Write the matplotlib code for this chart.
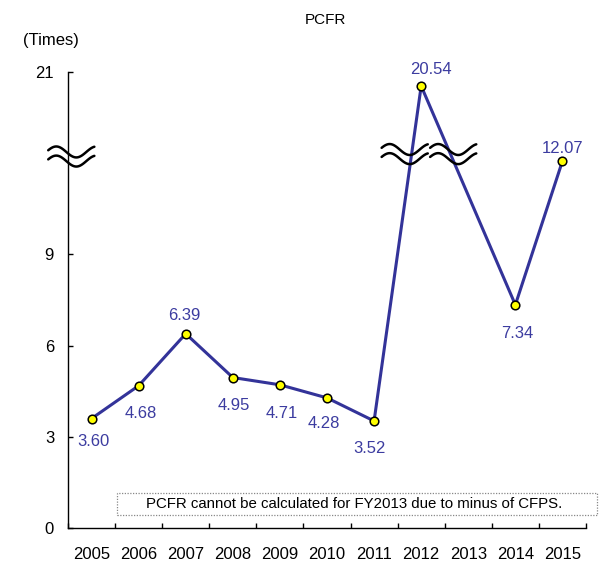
import numpy as np
import matplotlib
matplotlib.use("Agg")
import matplotlib.pyplot as plt
from matplotlib.patches import Rectangle

plt.rcParams['font.family'] = ['Liberation Sans', 'DejaVu Sans']

years = ['2005', '2006', '2007', '2008', '2009', '2010', '2011', '2012', '2013', '2014', '2015']
pcfr = [3.60, 4.68, 6.39, 4.95, 4.71, 4.28, 3.52, 20.54, None, 7.34, 12.07]
ytick_vals = [0, 3, 6, 9, 21]
title = 'PCFR'
unit = '(Times)'
note = 'PCFR cannot be calculated for FY2013 due to minus of CFPS.'

BREAK_LO, BREAK_SHIFT = 12.5, 6.0


def fwd(v):
    return v if v <= BREAK_LO else v - BREAK_SHIFT


line_c = '#333399'
label_c = '#3c3ca0'

W, H = 601, 566
fig = plt.figure(figsize=(W / 100, H / 100), dpi=100)
ax = fig.add_axes([68 / W, 1 - 528 / H, (586 - 68) / W, (528 - 72) / H])

xs = [i for i, v in enumerate(pcfr) if v is not None]
ys = [fwd(v) for v in pcfr if v is not None]
ax.plot(xs, ys, color=line_c, lw=2.2, zorder=3)
ax.plot(xs, ys, ls='none', marker='o', ms=6.2, mfc='#ffff00', mec='black', mew=1.1, zorder=4)

# label offsets (pixels, center of text)
offs = {0: (2, -21), 1: (2, -26), 2: (-1, 20), 3: (1, -26), 4: (2, -27),
        5: (-3, -24), 6: (-5, -26), 7: (10, 18), 9: (2, -27), 10: (0, 14)}
for i, v in enumerate(pcfr):
    if v is None:
        continue
    dx, dy = offs[i]
    ax.annotate(f'{v:.2f}', (i, fwd(v)), xytext=(dx, dy - 6), textcoords='offset pixels',
                ha='center', va='baseline', fontsize=12, color=label_c, zorder=5)

ax.set_xlim(-0.5, len(years) - 0.5)
ax.set_ylim(0, 15)
ax.set_yticks([fwd(v) if v <= BREAK_LO else v - BREAK_SHIFT for v in ytick_vals])
ax.set_yticklabels([str(v) for v in ytick_vals])
ax.set_xticks(np.arange(len(years) + 1) - 0.5)
ax.set_xticklabels([])
ax.set_xticks(np.arange(len(years)), minor=True)
ax.set_xticklabels(years, minor=True)
ax.tick_params(axis='x', which='major', direction='in', length=3.5, width=1, color='black')
ax.tick_params(axis='x', which='minor', length=0, pad=14, labelsize=12)
ax.tick_params(axis='y', direction='in', length=3.5, width=1, pad=10, labelsize=12)
for s in ['top', 'right']:
    ax.spines[s].set_visible(False)
for s in ['left', 'bottom']:
    ax.spines[s].set_linewidth(1)
    ax.spines[s].set_color('black')

# axis break symbols
def wave(cx, cy):
    t = np.linspace(0, 1, 80)
    wx = cx + (t - 0.5) * 0.98
    phase = 0.1 * np.pi + t * 2.3 * np.pi
    for k in (+0.15, -0.15):
        wy = cy + k + 0.18 * np.sin(phase)
        ax.plot(wx, wy, color='black', lw=1.8, clip_on=False, zorder=6, solid_capstyle='round')

wave(-0.43, 12.22)
wave(6.65, 12.3)
wave(7.68, 12.3)

fig.text(325.5 / W, 1 - 24 / H, title, ha='center', va='baseline', fontsize=11)
fig.text(23 / W, 1 - 45 / H, unit, ha='left', va='baseline', fontsize=12)

fig.patches.append(Rectangle((117 / W, 1 - 515 / H), (597 - 117) / W, (515 - 493) / H,
                             transform=fig.transFigure, fill=False, ec='#888888',
                             ls=(0, (1, 1.2)), lw=0.9))
fig.text(354.5 / W, 1 - 504 / H, note, ha='center', va='center', fontsize=10.8)

fig.savefig('out.png', dpi=100)
